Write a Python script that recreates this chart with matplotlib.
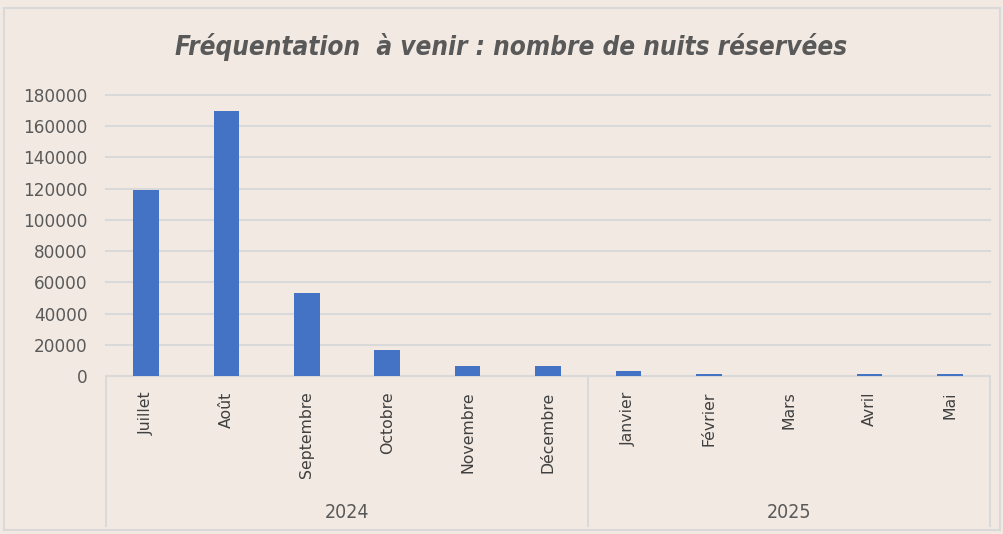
import matplotlib
matplotlib.use("Agg")
import matplotlib.pyplot as plt
from matplotlib.patches import Rectangle

months = ["Juillet", "Août", "Septembre", "Octobre", "Novembre", "Décembre",
          "Janvier", "Février", "Mars", "Avril", "Mai"]
nights = [119000, 169500, 53000, 16700, 6500, 6500, 3500, 1000, 0, 1000, 1000]
years = ["2024", "2025"]
year_sizes = [6, 5]
yticks = list(range(0, 180001, 20000))
title = "Fréquentation  à venir : nombre de nuits réservées"

BG = "#F2E9E2"
GRID = "#D9D9D9"
TXT = "#595959"
BAR = "#4472C4"

W, H = 1004, 534
fig = plt.figure(figsize=(W / 100, H / 100), dpi=100)
fig.patch.set_facecolor(BG)
fig.patches.append(Rectangle((4 / W, 4 / H), 996 / W, 522 / H, transform=fig.transFigure,
                             fill=False, edgecolor=GRID, lw=1.5))

L, R, T, B = 106, 990, 95, 376
ax = fig.add_axes([L / W, 1 - B / H, (R - L) / W, (B - T) / H])
ax.set_facecolor(BG)

x = list(range(len(months)))
ax.bar(x, nights, width=0.32, color=BAR, zorder=3)

ax.set_xlim(-0.5, len(months) - 0.5)
ax.set_ylim(0, 180000)
ax.set_yticks(yticks)
ax.set_yticklabels([str(v) for v in yticks], fontsize=12.2, color=TXT)
ax.tick_params(axis="y", length=0, pad=13)
for v in yticks[1:]:
    ax.axhline(v, color=GRID, lw=1.5, zorder=0, clip_on=False)
for s in ["top", "right", "left"]:
    ax.spines[s].set_visible(False)
ax.spines["bottom"].set_color(GRID)
ax.spines["bottom"].set_linewidth(1.5)

ax.set_xticks(x)
ax.set_xticklabels(months, rotation=90, fontsize=11.3, color="#404040", va="top")
ax.tick_params(axis="x", length=0, pad=11)

axh = B - T
depth = -150 / axh
trans = ax.get_xaxis_transform()
bounds = [-0.5]
for n in year_sizes:
    bounds.append(bounds[-1] + n)
for b in bounds:
    ax.plot([b, b], [0, depth], transform=trans, color=GRID, lw=1.5, clip_on=False)
for i, yr in enumerate(years):
    cx = (bounds[i] + bounds[i + 1]) / 2
    ax.text(cx, -137 / axh, yr, transform=trans, ha="center", va="center",
            fontsize=14, color=TXT, fontstretch="condensed")

fig.text(511 / W, 1 - 47 / H, title, ha="center", va="center", fontsize=18.7,
         fontweight="bold", fontstyle="italic", color=TXT, fontstretch="condensed")

fig.savefig("out.png", dpi=100, facecolor=BG)
